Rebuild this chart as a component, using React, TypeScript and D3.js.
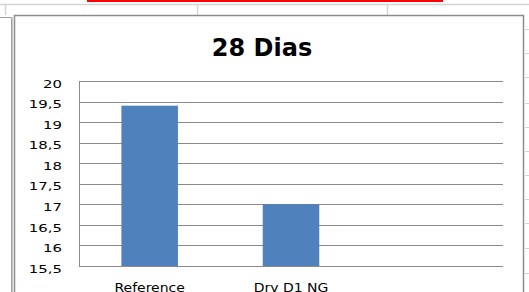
import React, { useEffect, useRef } from "react";
import * as d3 from "d3";

// chart data
const categories = ["Reference", "Dry D1 NG", ""];
const values = [19.4, 17.0, null];
const yTicks = [15.5, 16, 16.5, 17, 17.5, 18, 18.5, 19, 19.5, 20];
const title = "28 Dias";

// spreadsheet background bits
const colLines = [5, 197, 387];
const rowLines = [29, 53, 77, 103, 127, 151, 175, 199, 223, 248, 273];

const App = () => {
    const svgRef = useRef<SVGSVGElement | null>(null);

    useEffect(() => {
        const width = 529;
        const height = 292;
        const plot = { left: 79, right: 503, top: 81, bottom: 266 };

        const svg = d3.select(svgRef.current);
        svg.selectAll("*").remove();

        svg.append("rect").attr("width", width).attr("height", height).attr("fill", "white");

        // excel sheet around the chart
        svg.append("rect")
            .attr("x", 87).attr("y", 0).attr("width", 356).attr("height", 2)
            .attr("fill", "#ff0000");
        svg.append("line")
            .attr("x1", 0).attr("x2", width).attr("y1", 4.5).attr("y2", 4.5)
            .attr("stroke", "#d4d4d4").attr("stroke-width", 1.5);
        svg.selectAll(".col")
            .data(colLines)
            .enter()
            .append("line")
            .attr("x1", d => d + 0.5).attr("x2", d => d + 0.5)
            .attr("y1", 5).attr("y2", 15)
            .attr("stroke", "#d4d4d4").attr("stroke-width", 1.5);
        svg.selectAll(".row")
            .data(rowLines)
            .enter()
            .append("line")
            .attr("x1", 525).attr("x2", width)
            .attr("y1", d => d + 0.5).attr("y2", d => d + 0.5)
            .attr("stroke", "#d4d4d4");

        // neighbouring frame on the left
        svg.append("path")
            .attr("d", `M0,17.5H11.5V${height}`)
            .attr("fill", "none").attr("stroke", "#a0a0a0");
        svg.append("line")
            .attr("x1", 12.5).attr("x2", 12.5).attr("y1", 17).attr("y2", height)
            .attr("stroke", "#c8c8c8");

        // chart frame
        svg.append("rect")
            .attr("x", 14.5).attr("y", 15.5).attr("width", 509).attr("height", 300)
            .attr("fill", "white").attr("stroke", "#8c8c8c").attr("stroke-width", 1.5);

        svg.append("text")
            .attr("x", 262).attr("y", 56)
            .attr("text-anchor", "middle")
            .style("font-family", "DejaVu Sans")
            .style("font-weight", "bold")
            .style("font-size", "24px")
            .text(title);

        const x = d3.scaleBand<string>()
            .domain(categories)
            .range([plot.left, plot.right])
            .paddingInner(0.6)
            .paddingOuter(0.3);

        const y = d3.scaleLinear()
            .domain([15.5, 20])
            .range([plot.bottom, plot.top]);

        // gridlines
        svg.selectAll(".grid")
            .data(yTicks)
            .enter()
            .append("line")
            .attr("x1", plot.left).attr("x2", plot.right)
            .attr("y1", d => Math.round(y(d)) + 0.5).attr("y2", d => Math.round(y(d)) + 0.5)
            .attr("stroke", "#8a8a8a");

        // y tick labels (comma decimals)
        svg.selectAll(".ylab")
            .data(yTicks)
            .enter()
            .append("text")
            .attr("transform", d => `translate(62,${y(d) + 6.7}) scale(1.42,1)`)
            .attr("text-anchor", "end")
            .style("font-family", "DejaVu Sans")
            .style("font-size", "10.5px")
            .style("fill", "#000")
            .text(d => String(d).replace(".", ","));

        // bars
        svg.selectAll(".bar")
            .data(categories.map((c, i) => ({ c, v: values[i] })).filter(d => d.v != null))
            .enter()
            .append("rect")
            .attr("x", d => x(d.c) as number)
            .attr("width", x.bandwidth())
            .attr("y", d => y(d.v as number))
            .attr("height", d => plot.bottom - y(d.v as number))
            .attr("fill", "#4f81bd");

        // axes lines
        svg.append("path")
            .attr("d", `M${plot.left + 0.5},${plot.top}V${plot.bottom + 0.5}H${plot.right}`)
            .attr("fill", "none").attr("stroke", "#8a8a8a");

        // category labels
        svg.selectAll(".xlab")
            .data(categories)
            .enter()
            .append("text")
            .attr("transform", d => `translate(${(x(d) as number) + x.bandwidth() / 2},291.5) scale(1.12,1)`)
            .attr("text-anchor", "middle")
            .style("font-family", "DejaVu Sans")
            .style("font-size", "12.5px")
            .style("fill", "#000")
            .text(d => d);
    }, []);

    return (
        <svg
            ref={svgRef}
            width={529}
            height={292}
            style={{ position: "absolute", left: 0, top: 0 }}
        ></svg>
    );
};

export default App;
